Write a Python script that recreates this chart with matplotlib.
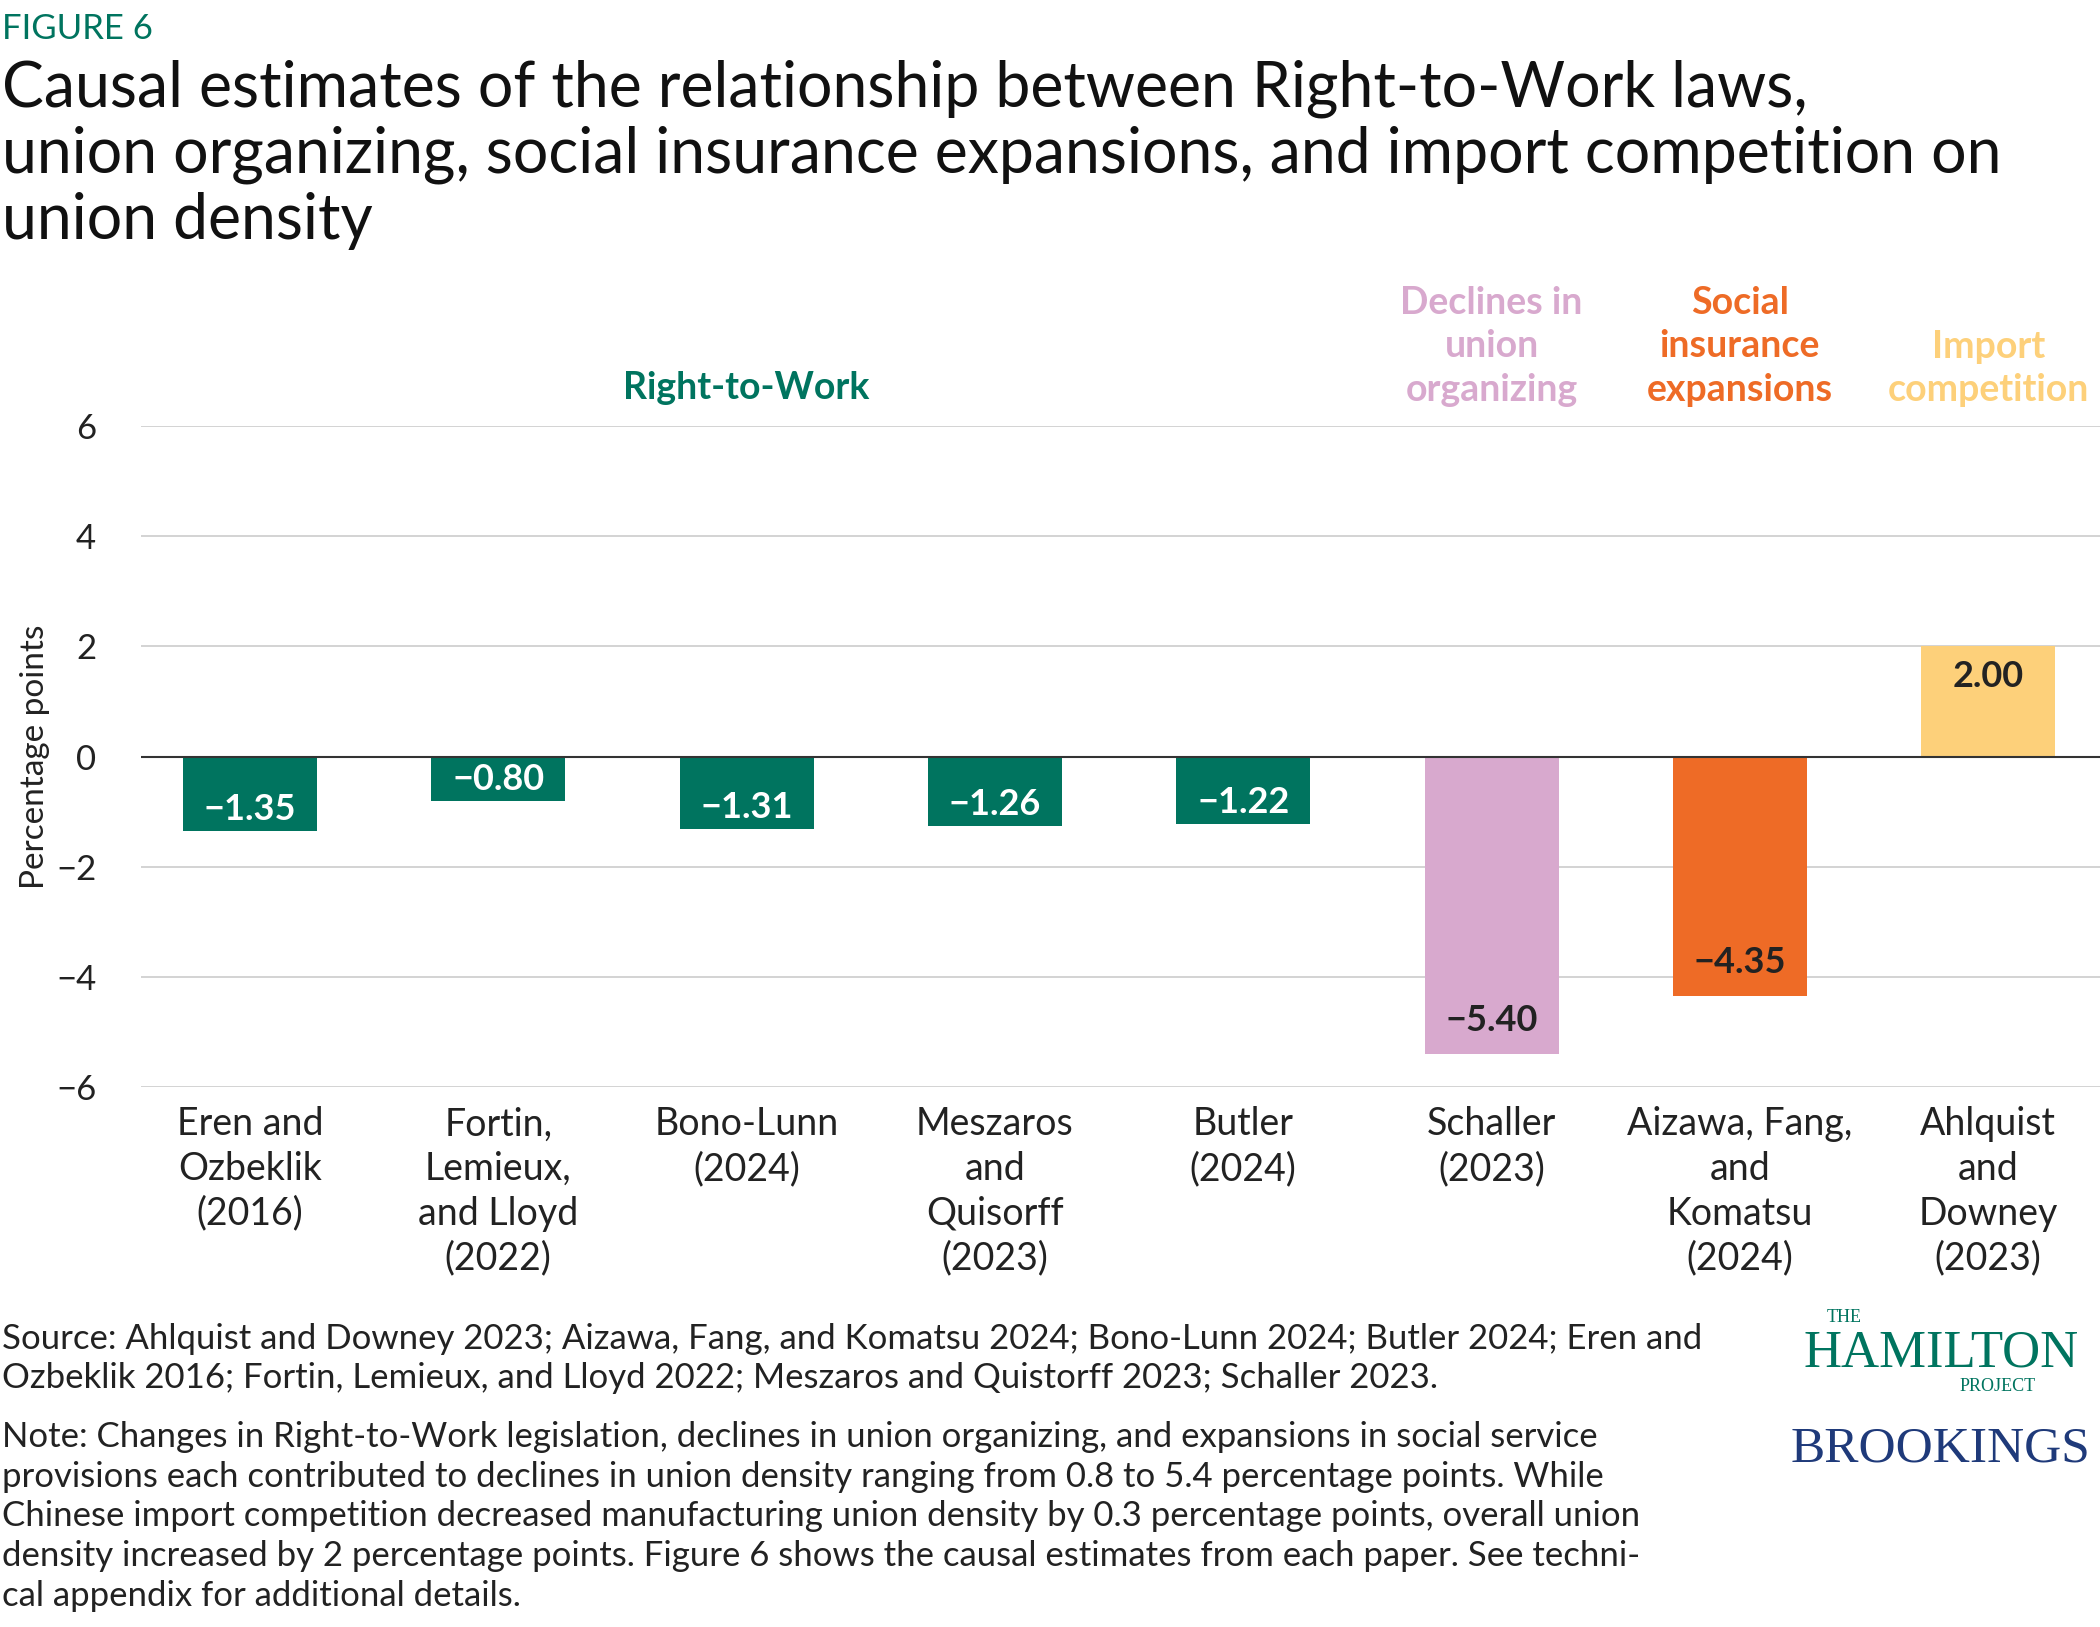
import matplotlib
matplotlib.use("Agg")
import matplotlib.pyplot as plt

labels = ["Eren and\nOzbeklik\n(2016)", "Fortin,\nLemieux,\nand Lloyd\n(2022)", "Bono-Lunn\n(2024)",
          "Meszaros\nand\nQuisorff\n(2023)", "Butler\n(2024)", "Schaller\n(2023)",
          "Aizawa, Fang,\nand\nKomatsu\n(2024)", "Ahlquist\nand\nDowney\n(2023)"]
values = [-1.35, -0.80, -1.31, -1.26, -1.22, -5.40, -4.35, 2.00]
GREEN, PINK, ORANGE, YELLOW = "#00745F", "#D8A9CE", "#EE6B26", "#FDD07A"
colors = [GREEN]*5 + [PINK, ORANGE, YELLOW]
label_colors = ["white"]*5 + ["#222222"]*3
yticks = [-6, -4, -2, 0, 2, 4, 6]

plt.rcParams['font.family'] = ['Lato', 'DejaVu Sans']
fig = plt.figure(figsize=(21, 16.27), dpi=100)
ax = fig.add_axes([0.067, 0.332, 0.933, 0.406])
x = list(range(len(values)))
ax.bar(x, values, width=0.54, color=colors, zorder=3)
ax.set_xlim(-0.44, 7.45)
ax.set_ylim(-6, 6)
ax.set_yticks(yticks)
ax.set_yticklabels([str(t).replace('-', '\u2212') for t in yticks], fontsize=25)
ax.grid(axis='y', color='#cccccc', lw=1.2, zorder=0)
ax.axhline(0, color='#333333', lw=1.5, zorder=4)
for s in ax.spines.values():
    s.set_visible(False)
ax.tick_params(axis='y', length=0, pad=32, labelcolor='#222222')
ax.tick_params(axis='x', length=0, pad=14)
ax.set_xticks(x)
ax.set_xticklabels(labels, fontsize=27, linespacing=1.3, va='top', color='#222222')
ax.set_ylabel("Percentage points", fontsize=24, color='#222222', labelpad=4)
for xi, v, lc in zip(x, values, label_colors):
    if v > 0:
        y = v - 0.55
    elif v < -2:
        y = v + 0.6
    else:
        y = v + 0.38
    ax.text(xi, y, f"{v:.2f}".replace('-', '\u2212'), ha='center', va='center',
            fontsize=26, fontweight='bold', color=lc, zorder=5)

hdr = dict(ha='center', va='center', fontsize=27, fontweight='bold', linespacing=1.35)
ax.text(2, 6.7, "Right-to-Work", color=GREEN, **hdr)
ax.text(5, 7.45, "Declines in\nunion\norganizing", color=PINK, **hdr)
ax.text(6, 7.45, "Social\ninsurance\nexpansions", color=ORANGE, **hdr)
ax.text(7, 7.05, "Import\ncompetition", color=YELLOW, **hdr)

fig.text(0.001, 0.982, "FIGURE 6", fontsize=25, color=GREEN, va='center')
fig.text(0.001, 0.905, "Causal estimates of the relationship between Right-to-Work laws,\nunion organizing, social insurance expansions, and import competition on\nunion density",
         fontsize=45, color='#111111', va='center', linespacing=1.16)
fig.text(0.001, 0.165, "Source: Ahlquist and Downey 2023; Aizawa, Fang, and Komatsu 2024; Bono-Lunn 2024; Butler 2024; Eren and\nOzbeklik 2016; Fortin, Lemieux, and Lloyd 2022; Meszaros and Quistorff 2023; Schaller 2023.",
         fontsize=25, color='#222222', va='center', linespacing=1.3)
fig.text(0.001, 0.068, "Note: Changes in Right-to-Work legislation, declines in union organizing, and expansions in social service\nprovisions each contributed to declines in union density ranging from 0.8 to 5.4 percentage points. While\nChinese import competition decreased manufacturing union density by 0.3 percentage points, overall union\ndensity increased by 2 percentage points. Figure 6 shows the causal estimates from each paper. See techni-\ncal appendix for additional details.",
         fontsize=25, color='#222222', va='center', linespacing=1.3)
fig.text(0.9245, 0.168, "HAMILTON", fontsize=38, family=['Liberation Serif'], color=GREEN, ha='center', va='center')
fig.text(0.878, 0.19, "THE", fontsize=13, family=['Liberation Serif'], color=GREEN, ha='center', va='center')
fig.text(0.951, 0.148, "PROJECT", fontsize=13, family=['Liberation Serif'], color=GREEN, ha='center', va='center')
fig.text(0.924, 0.109, "BROOKINGS", fontsize=37, family=['Liberation Serif'], color='#1F3A7A', ha='center', va='center')
fig.savefig("out.png", dpi=100)
